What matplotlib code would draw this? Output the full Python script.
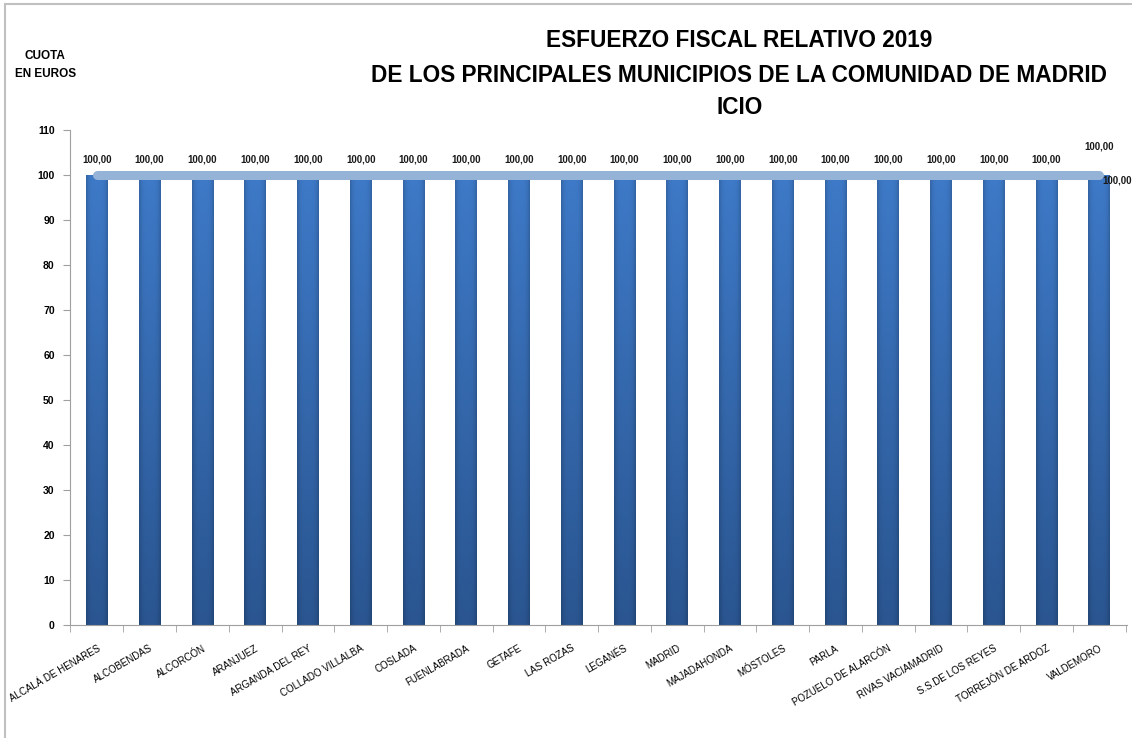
import matplotlib.pyplot as plt
import matplotlib.patches as mpatches
import matplotlib.colors as mcolors
import numpy as np

municipios = ["ALCALÁ DE HENARES", "ALCOBENDAS", "ALCORCÓN", "ARANJUEZ",
              "ARGANDA DEL REY", "COLLADO VILLALBA", "COSLADA", "FUENLABRADA",
              "GETAFE", "LAS ROZAS", "LEGANÉS", "MADRID", "MAJADAHONDA",
              "MÓSTOLES", "PARLA", "POZUELO DE ALARCÓN", "RIVAS VACIAMADRID",
              "S.S.DE LOS REYES", "TORREJÓN DE ARDOZ", "VALDEMORO"]
esfuerzo = [100.0] * 20
media = [100.0] * 20
y_ticks = [0, 10, 20, 30, 40, 50, 60, 70, 80, 90, 100, 110]

plt.rcParams['font.family'] = ['Liberation Sans', 'DejaVu Sans']

fig = plt.figure(figsize=(11.32, 7.38), dpi=100)
fig.patch.set_facecolor('white')
ax = fig.add_axes([0.0618, 0.153, 0.934, 0.671])

x = np.arange(len(municipios))
bars = ax.bar(x, esfuerzo, width=0.41, color='#3466a8', zorder=2)

# shading: lighter at top, darker towards the bottom and side edges
top = np.array(mcolors.to_rgb('#3e7ac8'))
bottom = np.array(mcolors.to_rgb('#2a5590'))
v = np.linspace(0, 1, 200).reshape(-1, 1, 1)
h = np.linspace(-1, 1, 40).reshape(1, -1, 1)
img = bottom + (top - bottom) * v
img = img * (1 - 0.18 * h ** 4)
img = np.clip(img, 0, 1)
for b in bars:
    bx, by = b.get_x(), b.get_y()
    im = ax.imshow(img, extent=[bx, bx + b.get_width(), by, by + b.get_height()],
                   origin='lower', aspect='auto', zorder=2, interpolation='bilinear')
    im.set_clip_path(b)
    b.set_facecolor('none')

ax.plot(x, media, color='#95b3d7', linewidth=6.5, solid_capstyle='round', zorder=3)

for i, val in enumerate(esfuerzo):
    label = f"{val:.2f}".replace('.', ',')
    dy = 3.5 if i < len(esfuerzo) - 1 else 6.3
    ax.text(x[i], val + dy, label, ha='center', va='center', fontsize=7,
            fontweight='bold', color='#1a1a1a', zorder=4)
last = len(media) - 1
ax.text(x[last] + 0.05, media[last] - 1.2, f"{media[last]:.2f}".replace('.', ','),
        ha='left', va='center', fontsize=7, fontweight='bold', color='#1a1a1a', zorder=4)

ax.set_xlim(-0.51, 19.53)
ax.set_ylim(0, 110)
ax.set_yticks(y_ticks)
ax.set_yticklabels([str(t) for t in y_ticks], fontsize=7.5, fontweight='bold')
ax.set_xticks(x)
ax.set_xticklabels(municipios, rotation=30, ha='right', rotation_mode='anchor',
                   fontsize=7)
ax.set_xticks(np.arange(-0.5, len(municipios) + 0.5, 1), minor=True)
ax.tick_params(axis='x', which='major', length=0, pad=13)
ax.tick_params(axis='x', which='minor', length=5, color='#a0a0a0')
ax.tick_params(axis='y', length=5, color='#a0a0a0', pad=6)

ax.spines['top'].set_visible(False)
ax.spines['right'].set_visible(False)
ax.spines['left'].set_color('#a0a0a0')
ax.spines['bottom'].set_color('#a0a0a0')

fig.text(0.653, 0.945, "ESFUERZO FISCAL RELATIVO 2019", ha='center', va='center',
         fontsize=16.3, fontweight='bold')
fig.text(0.653, 0.898, "DE LOS PRINCIPALES MUNICIPIOS DE LA COMUNIDAD DE MADRID",
         ha='center', va='center', fontsize=16.3, fontweight='bold')
fig.text(0.653, 0.855, "ICIO", ha='center', va='center', fontsize=16.3,
         fontweight='bold')
fig.text(0.04, 0.912, "CUOTA\nEN EUROS", ha='center', va='center', fontsize=8.5,
         fontweight='bold', linespacing=1.6)

border = mpatches.Rectangle((0.004, -0.01), 1.0, 1.004, transform=fig.transFigure,
                            fill=False, edgecolor='#c0c0c0', linewidth=1.5)
fig.patches.append(border)

fig.savefig("out.png", dpi=100)
